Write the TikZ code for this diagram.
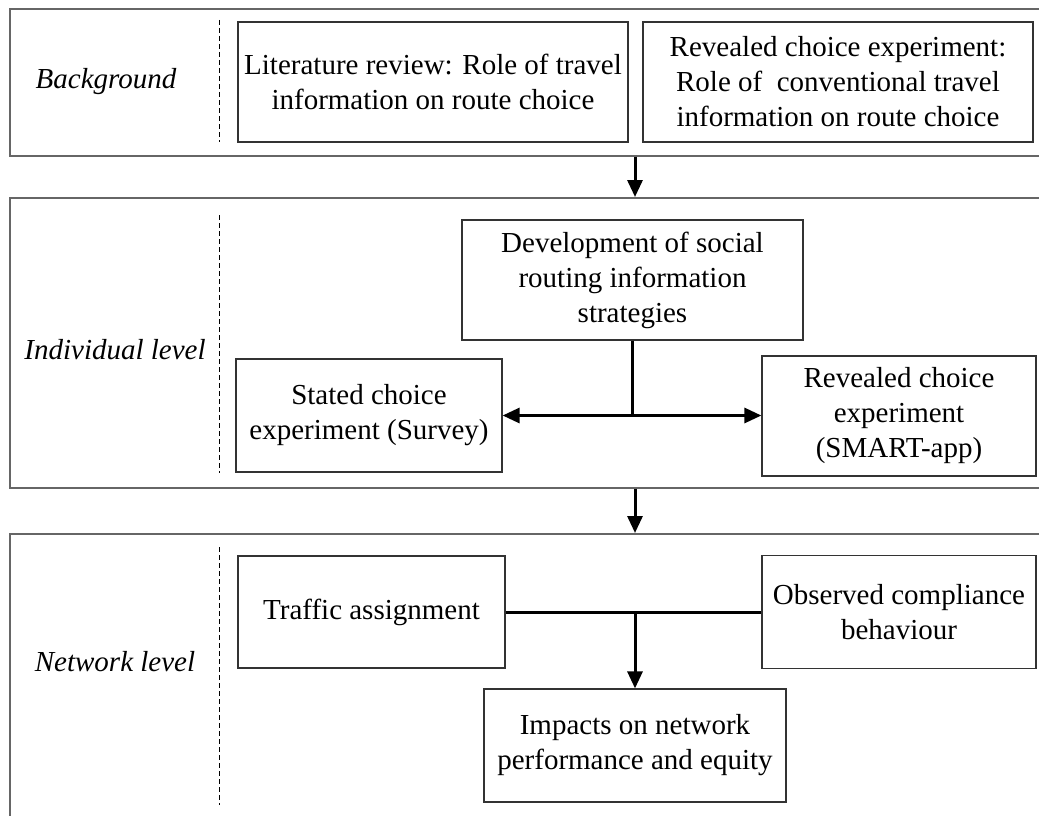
\documentclass[tikz,border=0pt]{standalone}
\usepackage{fontspec}
\setmainfont{Liberation Serif}
\usetikzlibrary{arrows.meta}
\tikzset{
  panel/.style={draw=black!60, line width=1.6pt, rectangle, inner sep=0pt, anchor=north west},
  boxnode/.style={draw=black!80, line width=1.2pt, rectangle, inner sep=0pt, align=center,
    font=\fontsize{29}{35}\selectfont},
  lvl/.style={font=\fontsize{29}{35}\selectfont\itshape, inner sep=0pt},
  sep/.style={draw=black, line width=0.9pt, dash pattern=on 5pt off 3pt},
  conn/.style={line width=3pt, draw=black},
  arr/.style={conn, -{Triangle[length=17pt,width=15pt]}},
}
\begin{document}
\begin{tikzpicture}[x=1pt,y=-1pt]
\useasboundingbox (0,0) rectangle (1039,816);
\clip (0,0) rectangle (1039,816);
% panels
\node[panel, minimum width=1040pt, minimum height=147pt] (p1) at (9,8) {};
\node[panel, minimum width=1040pt, minimum height=290pt] (p2) at (9,197) {};
\node[panel, minimum width=1040pt, minimum height=300pt] (p3) at (9,533) {};
% level labels
\node[lvl] (l1) at (106,82) {Background};
\node[lvl] (l2) at (115,350) {Individual level};
\node[lvl] (l3) at (115,662) {Network level};
% separators
\coordinate (s1a) at (219,20);  \coordinate (s1b) at (219,142);
\coordinate (s2a) at (219,215); \coordinate (s2b) at (219,473);
\coordinate (s3a) at (219,547); \coordinate (s3b) at (219,805);
\draw[sep] (s1a) -- (s1b);
\draw[sep] (s2a) -- (s2b);
\draw[sep] (s3a) -- (s3b);
% boxes
\node[boxnode, minimum width=390pt, minimum height=120pt] (lit) at (433,82)
  {Literature review: Role of travel\\information on route choice};
\node[boxnode, minimum width=390pt, minimum height=120pt] (rev) at (838,82)
  {Revealed choice experiment:\\Role of\ \ conventional travel\\information on route choice};
\node[boxnode, minimum width=341pt, minimum height=120pt] (dev) at (632.5,280)
  {Development of social\\routing information\\strategies};
\node[boxnode, minimum width=266pt, minimum height=113pt] (stated) at (369,415.5)
  {Stated choice\\experiment (Survey)};
\node[boxnode, minimum width=274pt, minimum height=120pt] (smart) at (899,416)
  {Revealed choice\\experiment\\(SMART-app)};
\node[boxnode, minimum width=267pt, minimum height=112pt] (traffic) at (371.5,612)
  {Traffic assignment};
\node[boxnode, minimum width=274pt, minimum height=113pt] (obs) at (899,612)
  {Observed compliance\\behaviour};
\node[boxnode, minimum width=302pt, minimum height=113pt] (imp) at (635,745.5)
  {Impacts on network\\performance and equity};
% connectors
\draw[arr] (p1.south -| imp.north) -- (p2.north -| imp.north);
\draw[arr] (p2.south -| imp.north) -- (p3.north -| imp.north);
\coordinate (j1) at (dev.south |- stated.east);
\draw[conn] (dev.south) -- (j1);
\draw[arr] (j1) -- (stated.east);
\draw[arr] (j1) -- (j1 -| smart.west);
\draw[conn] (traffic.east) -- (obs.west);
\coordinate (j2) at (traffic.east -| imp.north);
\draw[arr] (j2) -- (imp.north);
\end{tikzpicture}
\end{document}
